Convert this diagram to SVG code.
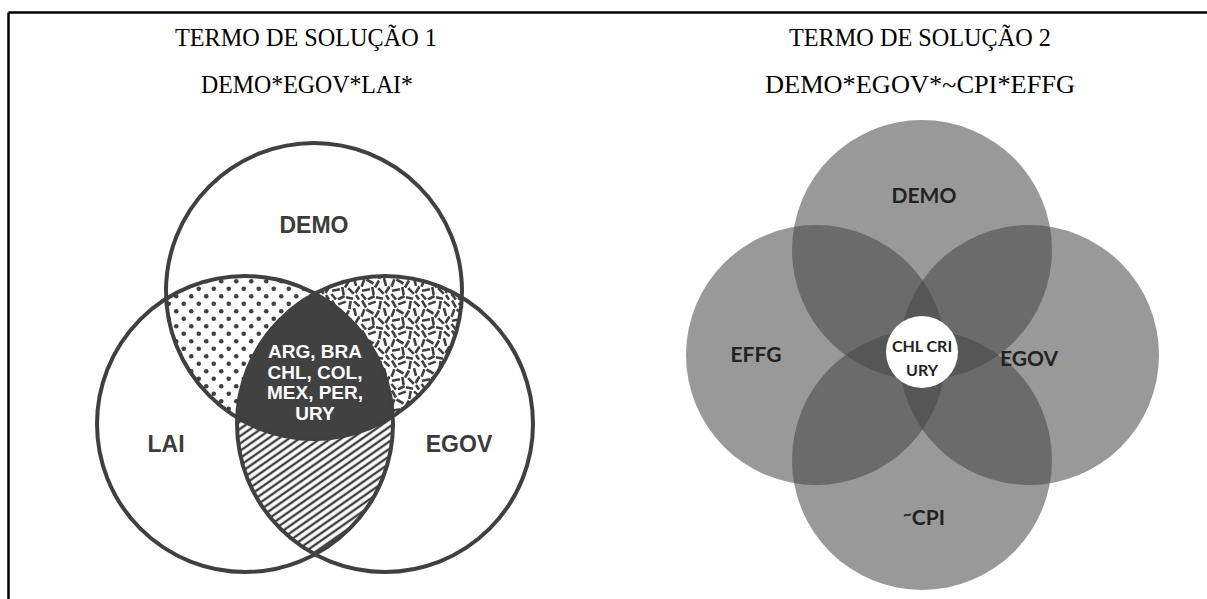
<svg xmlns="http://www.w3.org/2000/svg" width="1207" height="599" viewBox="0 0 1207 599">
<style>
.title{font-family:"Liberation Serif","Times New Roman",serif;font-size:26px;fill:#000;text-anchor:middle}
.lab1{font-family:"Liberation Sans",Arial,sans-serif;font-weight:bold;font-size:23px;fill:#3b3b3b;text-anchor:middle}
.cen1{font-family:"Liberation Sans",Arial,sans-serif;font-weight:bold;font-size:19px;fill:#fff;text-anchor:middle}
.lab2{font-family:Lato,"Noto Sans",sans-serif;font-weight:bold;font-size:21px;fill:#222;text-anchor:middle}
.cen2{font-family:Lato,"Noto Sans",sans-serif;font-weight:bold;font-size:16px;fill:#222;text-anchor:middle}
.ring{fill:none;stroke:#404040;stroke-width:4}
.disc{fill:#454545;fill-opacity:0.548}
</style>
<defs>
<pattern id="dots" patternUnits="userSpaceOnUse" width="15" height="15">
<rect width="15" height="15" fill="#fff"/>
<circle cx="3.75" cy="3.75" r="2.3" fill="#404040"/>
<circle cx="11.25" cy="11.25" r="2.3" fill="#404040"/>
</pattern>
<pattern id="hatch" patternUnits="userSpaceOnUse" width="6" height="6" patternTransform="rotate(-35)">
<rect width="6" height="6" fill="#fff"/>
<line x1="0" y1="3" x2="6" y2="3" stroke="#404040" stroke-width="2.4"/>
</pattern>
<pattern id="dash" patternUnits="userSpaceOnUse" width="30" height="30">
<rect width="30" height="30" fill="#fff"/>
<g stroke="#404040" stroke-width="2.6">
<line x1="2" y1="0.5" x2="6" y2="7.5"/>
<line x1="8.2" y1="4.4" x2="15.8" y2="1.6"/>
<line x1="20.7" y1="1.1" x2="19.3" y2="8.9"/>
<line x1="24" y1="1.4" x2="29.5" y2="6.4"/>
<line x1="4.4" y1="9.2" x2="1.6" y2="16.8"/>
<line x1="6.5" y1="9.5" x2="13.5" y2="13.5"/>
<line x1="15" y1="17.5" x2="19" y2="10.5"/>
<line x1="24" y1="8.1" x2="26" y2="15.9"/>
<line x1="2" y1="20.7" x2="10" y2="19.3"/>
<line x1="12.3" y1="17.1" x2="13.7" y2="24.9"/>
<line x1="18.2" y1="18.2" x2="23.8" y2="23.8"/>
<line x1="29.5" y1="16.5" x2="25.5" y2="23"/>
<line x1="1.4" y1="24" x2="6" y2="29.5"/>
<line x1="8" y1="29.5" x2="14.5" y2="26"/>
<line x1="16" y1="27.3" x2="23" y2="28.7"/>
<line x1="26" y1="25" x2="29" y2="29.6"/>
</g>
</pattern>
<clipPath id="cDemo"><circle cx="314" cy="291" r="148"/></clipPath>
<clipPath id="cLai"><circle cx="245" cy="424" r="148"/></clipPath>
</defs>

<rect width="1207" height="599" fill="#fff"/>
<g id="frame" stroke="#000" stroke-width="2.5" fill="none">
<line x1="8.5" y1="12.5" x2="1207" y2="12.5"/>
<line x1="8.5" y1="12.5" x2="8.5" y2="599"/>
</g>

<g id="titles">
<text class="title" x="306" y="46" textLength="262" lengthAdjust="spacingAndGlyphs">TERMO DE SOLUÇÃO 1</text>
<text class="title" x="307" y="93" textLength="212" lengthAdjust="spacingAndGlyphs">DEMO*EGOV*LAI*</text>
<text class="title" x="920" y="46" textLength="262" lengthAdjust="spacingAndGlyphs">TERMO DE SOLUÇÃO 2</text>
<text class="title" x="920" y="93" textLength="310" lengthAdjust="spacingAndGlyphs">DEMO*EGOV*~CPI*EFFG</text>
</g>

<g id="venn1">
<g id="regions1">
<g clip-path="url(#cDemo)"><circle cx="245" cy="424" r="148" fill="url(#dots)"/></g>
<g clip-path="url(#cDemo)"><circle cx="385" cy="424" r="148" fill="url(#dash)"/></g>
<g clip-path="url(#cLai)"><circle cx="385" cy="424" r="148" fill="url(#hatch)"/></g>
<g clip-path="url(#cDemo)"><g clip-path="url(#cLai)"><circle cx="385" cy="424" r="148" fill="#414141"/></g></g>
</g>
<g id="demo1"><circle class="ring" cx="314" cy="291" r="148"/><text class="lab1" x="314" y="233">DEMO</text></g>
<g id="lai1"><circle class="ring" cx="245" cy="424" r="148"/><text class="lab1" x="166" y="452">LAI</text></g>
<g id="egov1"><circle class="ring" cx="385" cy="424" r="148"/><text class="lab1" x="459" y="452">EGOV</text></g>
<g id="core1">
<text class="cen1" x="315" y="358">ARG, BRA</text>
<text class="cen1" x="315" y="379">CHL, COL,</text>
<text class="cen1" x="315" y="399">MEX, PER,</text>
<text class="cen1" x="315" y="420">URY</text>
</g>
</g>

<g id="venn2">
<g id="demo2"><circle class="disc" cx="922" cy="250" r="130"/></g>
<g id="effg2"><circle class="disc" cx="816" cy="355" r="130"/></g>
<g id="egov2"><circle class="disc" cx="1029" cy="355" r="130"/></g>
<g id="cpi2"><circle class="disc" cx="922" cy="460" r="130"/></g>
<g id="labels2">
<text class="lab2" x="924" y="203">DEMO</text>
<text class="lab2" x="756" y="362">EFFG</text>
<text class="lab2" x="1029" y="366">EGOV</text>
<text class="lab2" x="924" y="525"><tspan font-size="15" dy="-6">~</tspan><tspan dy="6">CPI</tspan></text>
</g>
<g id="core2">
<circle cx="922" cy="352" r="36" fill="#fff"/>
<text class="cen2" x="922" y="352">CHL CRI</text>
<text class="cen2" x="922" y="376">URY</text>
</g>
</g>
</svg>
